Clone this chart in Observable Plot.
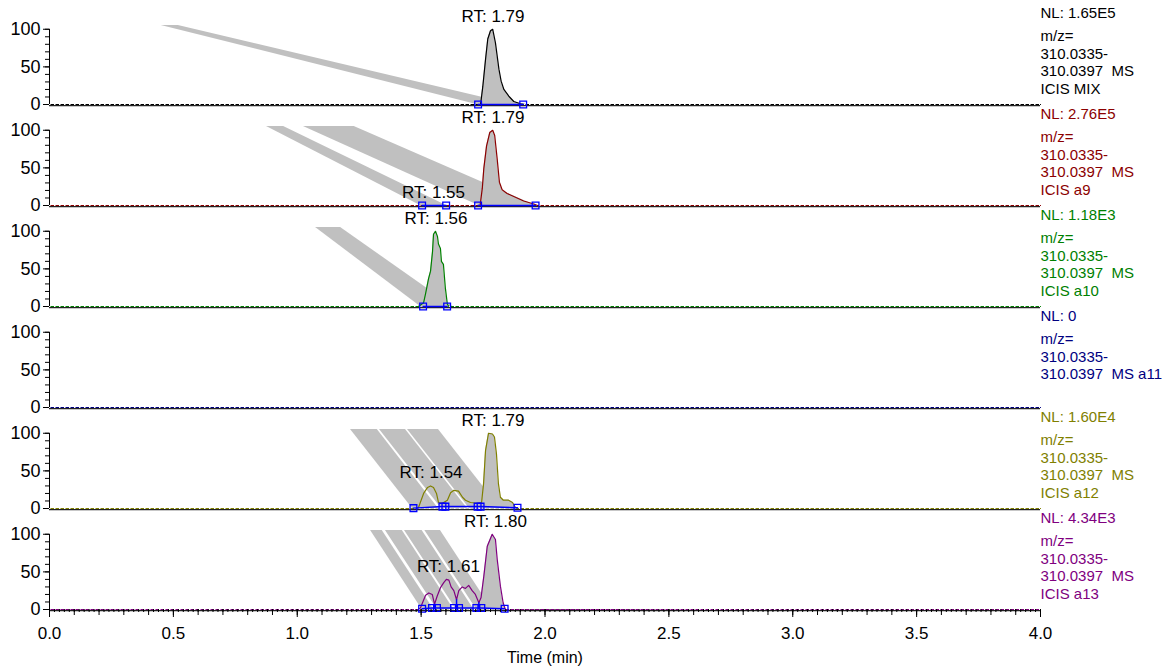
<!DOCTYPE html>
<html>
<head>
<meta charset="utf-8">
<script src="https://cdn.jsdelivr.net/npm/d3@7"></script>
<script src="https://cdn.jsdelivr.net/npm/@observablehq/plot@0.6"></script>
<style>
  body { margin: 0; background: #fff; }
  #chart svg { display: block; }
</style>
</head>
<body>
<div id="chart"></div>
<script>
// ---- panels ----
const panels = ["MIX", "a9", "a10", "a11", "a12", "a13"];
const panelColors = ["#000000", "#8b0000", "#008000", "#000080", "#808000", "#800080"];

// ---- right-hand labels ----
const labelsMIX = ["NL: 1.65E5", "m/z=", "310.0335-", "310.0397\u00a0\u00a0MS", "ICIS MIX"];
const labelsA9  = ["NL: 2.76E5", "m/z=", "310.0335-", "310.0397\u00a0\u00a0MS", "ICIS a9"];
const labelsA10 = ["NL: 1.18E3", "m/z=", "310.0335-", "310.0397\u00a0\u00a0MS", "ICIS a10"];
const labelsA11 = ["NL: 0", "m/z=", "310.0335-", "310.0397\u00a0\u00a0MS a11"];
const labelsA12 = ["NL: 1.60E4", "m/z=", "310.0335-", "310.0397\u00a0\u00a0MS", "ICIS a12"];
const labelsA13 = ["NL: 4.34E3", "m/z=", "310.0335-", "310.0397\u00a0\u00a0MS", "ICIS a13"];

// ---- traces (time in min, relative abundance %) ----
const mixT = [0, 1.740, 1.749, 1.760, 1.769, 1.780, 1.789, 1.800, 1.814, 1.823, 1.834, 1.854, 1.874, 1.901, 1.920, 4];
const mixV = [0, 0, 24, 60, 87, 98, 100, 82, 47, 31, 20, 11, 4, 1, 0, 0];
const a9T = [0, 1.738, 1.747, 1.753, 1.764, 1.777, 1.789, 1.797, 1.807, 1.816, 1.827, 1.847, 1.874, 1.914, 1.955, 1.970, 4];
const a9V = [0, 0, 23, 49, 79, 97, 100, 93, 62, 31, 21, 16, 12, 6, 2, 0, 0];
const a10T = [0, 1.489, 1.510, 1.518, 1.530, 1.538, 1.546, 1.550, 1.558, 1.566, 1.570, 1.578, 1.582, 1.590, 1.598, 1.606, 1.612, 4];
const a10V = [0, 0, 5, 17, 37, 47, 73, 96, 100, 93, 83, 77, 60, 56, 24, 3, 0, 0];
const a11T = [0, 4];
const a11V = [0, 0];
const a12T = [0, 1.480, 1.489, 1.510, 1.526, 1.538, 1.550, 1.562, 1.570, 1.586, 1.606, 1.619, 1.631, 1.651, 1.667, 1.679, 1.699, 1.728, 1.744, 1.752, 1.760, 1.772, 1.788, 1.796, 1.804, 1.812, 1.820, 1.832, 1.853, 1.869, 1.881, 1.890, 4];
const a12V = [0, 0, 1, 20, 28, 30, 28, 20, 8, 7, 11, 21, 24, 23, 15, 11, 8, 7, 8, 33, 77, 100, 99, 95, 73, 33, 15, 11, 11, 8, 1, 0, 0];
const a13T = [0, 1.490, 1.497, 1.518, 1.531, 1.545, 1.554, 1.565, 1.578, 1.592, 1.602, 1.612, 1.621, 1.632, 1.643, 1.652, 1.666, 1.679, 1.692, 1.706, 1.719, 1.733, 1.742, 1.753, 1.767, 1.787, 1.800, 1.807, 1.820, 1.831, 1.840, 4];
const a13V = [0, 0, 2, 19, 22, 20, 7, 18, 29, 36, 40, 39, 30, 25, 13, 25, 30, 28, 32, 25, 20, 9, 16, 44, 84, 100, 93, 67, 31, 9, 0, 0];

// ---- shaded peak ranges (min) ----
const fillStart = [1.738, 1.738, 1.489, null, 1.744, 1.742];
const fillEnd   = [1.920, 1.827, 1.612, null, 1.881, 1.840];

// ---- grey smear bands: time at top of frame and at baseline ----
const bandPanel = ["MIX", "a9", "a9", "a10", "a12", "a12", "a12", "a13", "a13", "a13", "a13"];
const bandTopL  = [0.451, 0.876, 1.025, 1.074, 1.215, 1.332, 1.445, 1.296, 1.356, 1.433, 1.515];
const bandTopR  = [0.520, 0.945, 1.230, 1.175, 1.323, 1.437, 1.570, 1.343, 1.424, 1.504, 1.578];
const bandBotL  = [1.724, 1.497, 1.732, 1.497, 1.465, 1.582, 1.695, 1.504, 1.565, 1.642, 1.724];
const bandBotR  = [1.870, 1.602, 1.962, 1.628, 1.570, 1.687, 1.820, 1.551, 1.632, 1.713, 1.787];
const bandTopValue = 105;

// ---- integration markers ----
const markerPanel = ["MIX", "MIX", "a9", "a9", "a9", "a9", "a10", "a10",
  "a12", "a12", "a12", "a12", "a12", "a12",
  "a13", "a13", "a13", "a13", "a13", "a13", "a13", "a13"];
const markerGroup = [1, 1, 2, 2, 3, 3, 4, 4, 5, 5, 5, 5, 5, 5, 6, 6, 6, 6, 6, 6, 6, 6];
const markerTime = [1.730, 1.912, 1.504, 1.601, 1.730, 1.962, 1.508, 1.605,
  1.469, 1.586, 1.598, 1.728, 1.740, 1.889,
  1.504, 1.544, 1.564, 1.633, 1.653, 1.723, 1.743, 1.837];
const markerValue = [0, 0, 0, 0, 0, 0, 0, 0,
  0.5, 2.5, 2.5, 2.5, 2.5, 1,
  1, 2, 2, 2, 2, 2, 2, 1];
const dropPanel = ["a13", "a13", "a13"];
const dropTime = [1.554, 1.643, 1.733];
const dropValue = [7, 13, 9];

// ---- retention time labels ----
const rtPanel = ["MIX", "a9", "a9", "a10", "a12", "a12", "a13", "a13"];
const rtTime  = [1.79, 1.79, 1.55, 1.56, 1.79, 1.54, 1.80, 1.61];

// ---- axis ticks ----
const xMajor = d3.range(0, 4.0001, 0.5);
const xMid = d3.range(0, 4.0001, 0.1);
const xMinor = d3.range(0, 4.0001, 0.02);
const yMajor = [0, 50, 100];
const yMinor = d3.range(0, 100.1, 10);

// ---- build tables ----
const traceT = [mixT, a9T, a10T, a11T, a12T, a13T];
const traceV = [mixV, a9V, a10V, a11V, a12V, a13V];
const labelSets = [labelsMIX, labelsA9, labelsA10, labelsA11, labelsA12, labelsA13];

const trace = [];
const fills = [];
panels.forEach((p, i) => {
  traceT[i].forEach((t, j) => {
    const row = {panel: p, t, v: traceV[i][j]};
    trace.push(row);
    if (fillStart[i] != null && t >= fillStart[i] - 1e-9 && t <= fillEnd[i] + 1e-9) fills.push(row);
  });
});
const bands = [];
bandPanel.forEach((p, i) => {
  bands.push({panel: p, band: i, y: 0, x1: bandBotL[i], x2: bandBotR[i]});
  bands.push({panel: p, band: i, y: bandTopValue, x1: bandTopL[i], x2: bandTopR[i]});
});
const markers = markerPanel.map((p, i) => ({panel: p, group: markerGroup[i], t: markerTime[i], v: markerValue[i]}));
const drops = dropPanel.map((p, i) => ({panel: p, t: dropTime[i], v: dropValue[i]}));
const rtRows = rtPanel.map((p, i) => {
  const near = trace.filter(d => d.panel === p && Math.abs(d.t - rtTime[i]) <= 0.015);
  return {panel: p, t: rtTime[i], v: d3.max(near, d => d.v) ?? 0, text: "RT: " + d3.format(".2f")(rtTime[i])};
});
const labelRows = [];
panels.forEach((p, i) => labelSets[i].forEach((text, line) => labelRows.push({panel: p, line, text})));
const lineOffsets = [-87, -63.5, -46, -28.5, -11];

const font = "'Liberation Sans', Arial, Helvetica, sans-serif";

const chart = Plot.plot({
  width: 1175,
  height: 671,
  marginLeft: 49,
  marginRight: 135,
  marginTop: 24,
  marginBottom: 62,
  style: {fontFamily: font, fontSize: "17px", background: "#fff", color: "#000", overflow: "visible"},
  x: {domain: [0, 4], label: null},
  y: {domain: [0, 105], label: null},
  fy: {domain: panels, paddingInner: 0.222, paddingOuter: 0, axis: null, label: null},
  color: {domain: panels, range: panelColors},
  marks: [
    Plot.areaX(bands, {fy: "panel", y: "y", x1: "x1", x2: "x2", z: "band", fill: "#c0c0c0"}),
    Plot.areaY(fills, {fy: "panel", x: "t", y: "v", z: "panel", fill: "#c0c0c0"}),
    Plot.ruleY([0], {stroke: "#222", strokeWidth: 1.3, dy: 1}),
    Plot.line(trace, {fy: "panel", x: "t", y: "v", z: "panel", stroke: "panel", strokeWidth: 1.2}),
    Plot.ruleY([0], {stroke: "#fff", strokeWidth: 1, strokeDasharray: "1.5,3.5"}),
    Plot.ruleX(drops, {fy: "panel", x: "t", y1: 0, y2: "v", stroke: "#0000ff", strokeWidth: 1.5}),
    Plot.line(markers, {fy: "panel", x: "t", y: "v", z: "group", stroke: "#0000ff", strokeWidth: 1.5}),
    Plot.dot(markers, {fy: "panel", x: "t", y: "v", symbol: "square", r: 3.8, stroke: "#0000ff", strokeWidth: 1.3, fill: "none"}),
    Plot.text(rtRows, {fy: "panel", x: "t", y: "v", text: "text", dy: -13, fontSize: 17, fill: "#000"}),
    ...lineOffsets.map((off, k) => Plot.text(labelRows.filter(d => d.line === k), {
      fy: "panel", frameAnchor: "bottom-right", textAnchor: "start", text: "text",
      fill: "panel", dy: off, fontSize: 15
    })),
    // y axis
    Plot.ruleX([0], {y1: 0, y2: 100, stroke: "#000", strokeWidth: 1}),
    Plot.axisY({ticks: yMajor, tickSize: 6, tickPadding: 3, fontSize: 18, label: null}),
    Plot.axisY({ticks: yMinor, tickSize: 4, tickFormat: () => "", label: null}),
    // x axis (bottom panel only)
    Plot.axisX({ticks: xMajor, tickFormat: d3.format(".1f"), tickSize: 8, tickPadding: 9, fontSize: 17, label: null, facetAnchor: "bottom"}),
    Plot.axisX({ticks: xMid, tickSize: 6, tickFormat: () => "", label: null, facetAnchor: "bottom"}),
    Plot.axisX({ticks: xMinor, tickSize: 3, tickFormat: () => "", label: null, facetAnchor: "bottom"}),
    Plot.text([{panel: "a13", text: "Time (min)"}], {fy: "panel", frameAnchor: "bottom", text: "text", dy: 53, fontSize: 16, fill: "#000"})
  ]
});
document.getElementById("chart").appendChild(chart);
</script>
</body>
</html>
